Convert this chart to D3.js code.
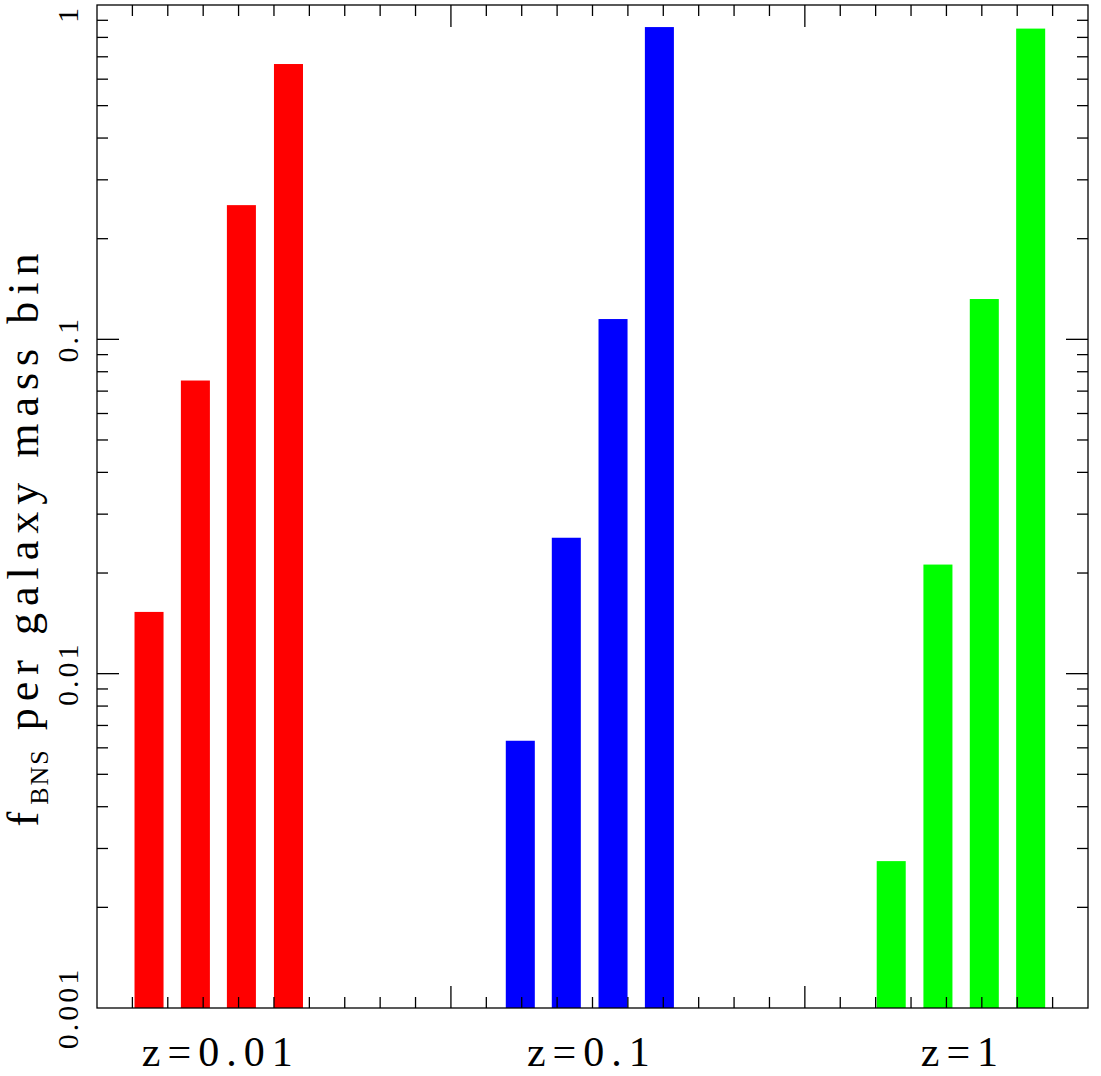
<!DOCTYPE html>
<html><head><meta charset="utf-8">
<script src="https://cdn.jsdelivr.net/npm/d3@7"></script>
<style>body{margin:0;background:#fff}text{font-family:"Liberation Serif","DejaVu Serif",serif;fill:#000}</style>
</head><body><svg id="c" width="1101" height="1076"></svg>
<script>
const groups = ["z=0.01","z=0.1","z=1"];
const groupColors = ["#ff0000","#0000ff","#00ff00"];
const barX = [[1.47,2.78,4.08,5.41],[11.96,13.26,14.58,15.89],[22.44,23.76,25.07,26.38]];
const barValues = [[0.0153,0.0753,0.252,0.666],[0.0063,0.0255,0.115,0.859],[0.00275,0.0212,0.132,0.85]];
const yTickLabels = ["0.001","0.01","0.1","1"];
const barW = 0.82;

const svg = d3.select("#c");
const L=97,R=1088,T=5,B=1008;
const x = d3.scaleLinear().domain([0,28]).range([L,R]);
const y = d3.scaleLog().domain([0.001,1]).range([B,T]);

groups.forEach((g,gi)=>{
  svg.selectAll(null).data(barValues[gi]).enter().append("rect")
    .attr("x",(d,i)=>x(barX[gi][i]-barW/2)).attr("width",x(barW)-x(0))
    .attr("y",d=>y(d)).attr("height",d=>B-y(d)).attr("fill",groupColors[gi]);
});

const ax = svg.append("g").attr("stroke","#000").attr("stroke-width",1.3).attr("fill","none");
ax.append("rect").attr("x",L).attr("y",T).attr("width",R-L).attr("height",B-T);
d3.range(1,28).forEach(v=>{
  const len = v%10===0?22:11;
  ax.append("line").attr("x1",x(v)).attr("x2",x(v)).attr("y1",B).attr("y2",B-len);
  ax.append("line").attr("x1",x(v)).attr("x2",x(v)).attr("y1",T).attr("y2",T+len);
});
const yt=[];
for(let e=-3;e<0;e++) for(let m=1;m<10;m++) yt.push([m*Math.pow(10,e),m===1]);
yt.forEach(([v,maj])=>{
  if(v<=0.001) return;
  const len = maj?22:11;
  ax.append("line").attr("x1",L).attr("x2",L+len).attr("y1",y(v)).attr("y2",y(v));
  ax.append("line").attr("x1",R).attr("x2",R-len).attr("y1",y(v)).attr("y2",y(v));
});
yTickLabels.forEach(t=>{
  const v=+t;
  svg.append("text").attr("transform",`translate(78,${y(v)}) rotate(-90)`)
    .attr("text-anchor",t==="1"?"end":"middle").attr("font-size",30).attr("letter-spacing",3).text(t);
});
groups.forEach((g,gi)=>{
  const cx = (barX[gi][0]+barX[gi][3])/2;
  svg.append("text").attr("x",x(cx)+2).attr("y",1066).attr("text-anchor","middle")
    .attr("font-size",42).attr("letter-spacing",7).text(g);
});
const yl = svg.append("text").attr("transform",`translate(38,${(T+B)/2+30}) rotate(-90)`)
  .attr("text-anchor","middle").attr("font-size",44).attr("letter-spacing",7);
yl.append("tspan").text("f");
yl.append("tspan").attr("font-size",26).attr("dy",10).attr("letter-spacing",2).text("BNS");
yl.append("tspan").attr("dy",-10).text(" per galaxy mass bin");
</script></body></html>
